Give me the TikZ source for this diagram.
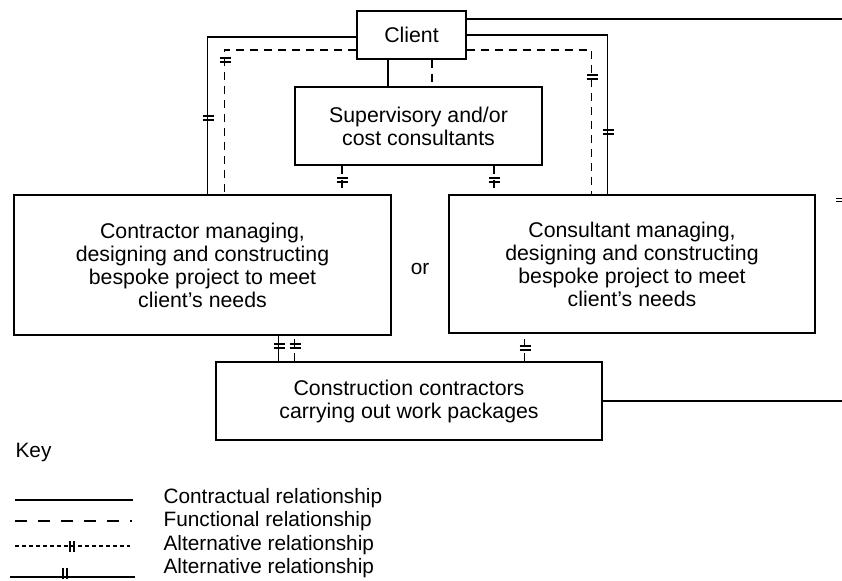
\documentclass[tikz,border=0pt]{standalone}
\usepackage{fontspec}
\setmainfont{Liberation Sans}
\begin{document}
\begin{tikzpicture}[x=1bp,y=-1bp,
  every path/.style={line width=1.2bp},
  box/.style={draw,line width=1.3bp,align=center,inner sep=0pt,
    font=\fontsize{21.3bp}{23bp}\selectfont},
  lbl/.style={font=\fontsize{20.8bp}{23bp}\selectfont,inner sep=0pt},
  dsh/.style={dash pattern=on 8bp off 6bp},
  dshl/.style={dash pattern=on 12bp off 11bp},
  dshk/.style={dash pattern=on 4bp off 3bp},
  vt/.pic={\draw[line width=1.7bp] (-5.5,-2) -- (5.5,-2) (-5.5,2) -- (5.5,2);},
  ht/.pic={\draw[line width=1.7bp] (-2,-5.5) -- (-2,5.5) (2,-5.5) -- (2,5.5);}
]
\useasboundingbox (0,0) rectangle (842,581);

% boxes
\node[box,minimum width=109bp,minimum height=48bp] (client) at (411.5,35) {Client};
\node[box,minimum width=247bp,minimum height=78bp] (sup) at (418.5,126) {Supervisory and/or\\cost consultants};
\node[box,minimum width=377bp,minimum height=140bp] (left) at (202.5,265) {Contractor managing,\\designing and constructing\\bespoke project to meet\\client's needs};
\node[box,minimum width=366bp,minimum height=138bp] (right) at (632,264) {Consultant managing,\\designing and constructing\\bespoke project to meet\\client's needs};
\node[box,minimum width=386bp,minimum height=78bp] (cons) at (409,401) {Construction contractors\\carrying out work packages};
\node[lbl] (or) at (420,269) {or};

% client to left / right boxes
\draw ([yshift=-2bp]client.west) -| ([xshift=194bp]left.north west);
\draw[dsh] ([yshift=-15bp]client.west) -| ([xshift=211bp]left.north west);
\draw (client.east) -| ([xshift=159bp]right.north west);
\draw[dsh] ([yshift=-15bp]client.east) -| ([xshift=143bp]right.north west);
\coordinate (topend) at (842,19);
\draw ([yshift=16bp]client.east) -- ([yshift=16bp]client.east -| topend);

% client to supervisory
\draw ([xshift=-23.5bp]client.south) -- ([xshift=-23.5bp]client.south |- sup.north);
\draw[dsh] ([xshift=20.5bp]client.south) -- ([xshift=20.5bp]client.south |- sup.north);

% supervisory to left / right
\draw[dsh] ([xshift=-76.5bp]sup.south) -- ([xshift=-76.5bp]sup.south |- left.north);
\draw[dsh] ([xshift=75.5bp]sup.south) -- ([xshift=75.5bp]sup.south |- right.north);

% left / right to construction
\draw ([xshift=63bp]cons.north west) -- ([xshift=63bp]cons.north west |- left.south);
\draw[dsh] ([xshift=79bp]cons.north west) -- ([xshift=79bp]cons.north west |- left.south);
\draw[dsh] ([xshift=309bp]cons.north west) -- ([xshift=309bp]cons.north west |- right.south);
\coordinate (consend) at (842,402);
\draw (cons.east) -- (cons.east -| consend);

% alternative ticks
\pic at (208,118) {vt};
\pic at (225,60) {vt};
\pic at (592,77) {vt};
\pic at (608,132) {vt};
\pic at (342,180) {vt};
\pic at (494,180) {vt};
\pic at (279,346) {vt};
\pic at (295,346) {vt};
\pic at (525,348) {vt};
\draw[line width=1bp] (836,199) -- (842,199) (836,202) -- (842,202);

% key
\node[lbl,anchor=west] (key) at (15,452) {Key};
\coordinate (k1a) at (15,500); \coordinate (k1b) at (133,500);
\draw (k1a) -- (k1b);
\coordinate (k2a) at (15,521); \coordinate (k2b) at (132,521);
\draw[dshl] (k2a) -- (k2b);
\coordinate (k3a) at (15,546); \coordinate (k3b) at (130,546);
\draw[dshk] (k3a) -- (k3b);
\pic at (72,546) {ht};
\coordinate (k4a) at (10,577); \coordinate (k4b) at (135,577);
\draw (k4a) -- (k4b);
\pic at (65,573) {ht};
\node[lbl,anchor=west] (t1) at (163,498) {Contractual relationship};
\node[lbl,anchor=west] (t2) at (163,521) {Functional relationship};
\node[lbl,anchor=west] (t3) at (163,545) {Alternative relationship};
\node[lbl,anchor=west] (t4) at (163,568) {Alternative relationship};
\end{tikzpicture}
\end{document}
